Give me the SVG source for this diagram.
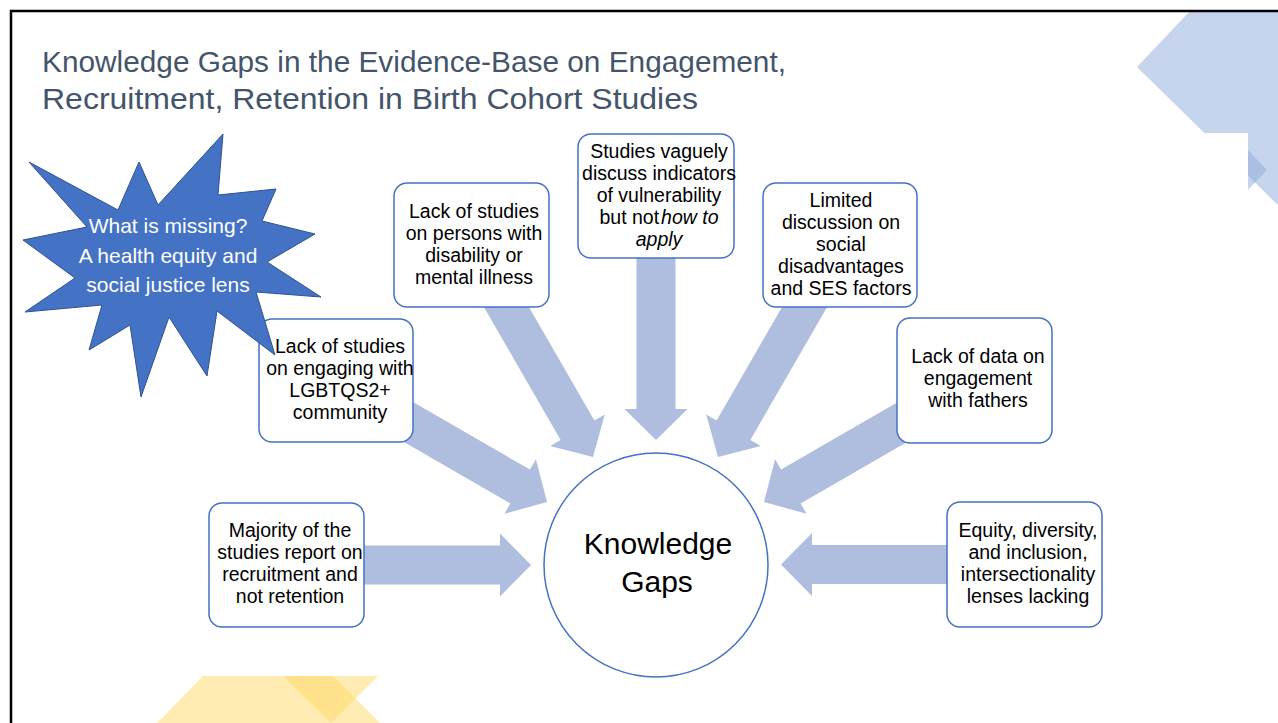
<svg xmlns="http://www.w3.org/2000/svg" width="1278" height="723" viewBox="0 0 1278 723">
  <style>
    .deco-b { fill:#8FAADC; fill-opacity:0.5; }
    .deco-y { fill:#FFD966; fill-opacity:0.5; }
    .arrow { fill:#AFBDDF; }
    .box rect { fill:#FFFFFF; stroke:#4472C4; stroke-width:1.5; }
    .bt { font-family:"Liberation Sans", Arial, sans-serif; font-size:19.5px; fill:#000000; text-anchor:middle; }
    .title { font-family:"Liberation Sans", Arial, sans-serif; font-size:30px; fill:#44546A; }
    .star { fill:#4472C4; stroke:#2F528F; stroke-width:1; }
    .st { font-family:"Liberation Sans", Arial, sans-serif; font-size:21px; fill:#FFFFFF; text-anchor:middle; }
    .ct { font-family:"Liberation Sans", Arial, sans-serif; font-size:30px; fill:#000000; text-anchor:middle; }
  </style>
  <rect width="1278" height="723" fill="#FFFFFF"/>

  <g id="decorations">
    <polygon class="deco-b" points="1137,67 1190,11 1278,11 1278,205"/>
    <rect x="1203" y="133" width="45" height="90" fill="#FFFFFF"/>
    <polygon class="deco-b" points="1248,150 1267,170 1248,190"/>
    <polygon class="deco-y" points="157,723 203,676 333,676 380,723"/>
    <polygon class="deco-y" points="283,676 378,676 331,723"/>
  </g>

  <rect id="frame" x="11" y="11" width="1300" height="800" fill="none" stroke="#000000" stroke-width="2.5"/>

  <g id="title">
    <text class="title" x="42" y="72" textLength="744" lengthAdjust="spacingAndGlyphs">Knowledge Gaps in the Evidence-Base on Engagement,</text>
    <text class="title" x="42" y="109" textLength="656" lengthAdjust="spacingAndGlyphs">Recruitment, Retention in Birth Cohort Studies</text>
  </g>

  <g id="connectors">
    <path class="arrow" transform="translate(350 565)" d="M0,-19.5 H150 V-31.5 L181,0 L150,31.5 V19.5 H0 Z"/>
    <path class="arrow" transform="translate(394.6 414) rotate(30)" d="M0,-19.5 H145 V-31.5 L176,0 L145,31.5 V19.5 H0 Z"/>
    <path class="arrow" transform="translate(498 292.5) rotate(60)" d="M0,-19.5 H159 V-31.5 L190,0 L159,31.5 V19.5 H0 Z"/>
    <path class="arrow" transform="translate(656 245) rotate(90)" d="M0,-19.5 H164 V-31.5 L195,0 L164,31.5 V19.5 H0 Z"/>
    <path class="arrow" transform="translate(813 292.5) rotate(120)" d="M0,-19.5 H159 V-31.5 L190,0 L159,31.5 V19.5 H0 Z"/>
    <path class="arrow" transform="translate(916.4 414) rotate(150)" d="M0,-19.5 H145 V-31.5 L176,0 L145,31.5 V19.5 H0 Z"/>
    <path class="arrow" transform="translate(960 564.5) rotate(180)" d="M0,-19.5 H148 V-31.5 L179,0 L148,31.5 V19.5 H0 Z"/>
  </g>

  <g id="node-majority" class="box">
    <rect x="209" y="503" width="155" height="124" rx="13"/>
    <text class="bt" x="290" y="537">Majority of the</text>
    <text class="bt" x="290" y="559">studies report on</text>
    <text class="bt" x="290" y="581">recruitment and</text>
    <text class="bt" x="290" y="603">not retention</text>
  </g>

  <g id="node-lgbtqs2" class="box">
    <rect x="259" y="319" width="154" height="123" rx="13"/>
    <text class="bt" x="340" y="353">Lack of studies</text>
    <text class="bt" x="340" y="375">on engaging with</text>
    <text class="bt" x="340" y="397">LGBTQS2+</text>
    <text class="bt" x="340" y="419">community</text>
  </g>

  <g id="node-disability" class="box">
    <rect x="394" y="183" width="155" height="124" rx="13"/>
    <text class="bt" x="474" y="218">Lack of studies</text>
    <text class="bt" x="474" y="240">on persons with</text>
    <text class="bt" x="474" y="262">disability or</text>
    <text class="bt" x="474" y="284">mental illness</text>
  </g>

  <g id="node-vulnerability" class="box">
    <rect x="578" y="134" width="156" height="124" rx="13"/>
    <text class="bt" x="659" y="158">Studies vaguely</text>
    <text class="bt" x="659" y="180">discuss indicators</text>
    <text class="bt" x="659" y="202">of vulnerability</text>
    <text class="bt" x="659" y="224">but not<tspan font-style="italic" dx="2">how to</tspan></text>
    <text class="bt" x="659" y="246" font-style="italic">apply</text>
  </g>

  <g id="node-limited" class="box">
    <rect x="763" y="183" width="154" height="124" rx="13"/>
    <text class="bt" x="841" y="207">Limited</text>
    <text class="bt" x="841" y="229">discussion on</text>
    <text class="bt" x="841" y="251">social</text>
    <text class="bt" x="841" y="273">disadvantages</text>
    <text class="bt" x="841" y="295">and SES factors</text>
  </g>

  <g id="node-fathers" class="box">
    <rect x="897" y="318" width="155" height="125" rx="13"/>
    <text class="bt" x="978" y="363">Lack of data on</text>
    <text class="bt" x="978" y="385">engagement</text>
    <text class="bt" x="978" y="407">with fathers</text>
  </g>

  <g id="node-equity" class="box">
    <rect x="947" y="502" width="155" height="125" rx="13"/>
    <text class="bt" x="1028" y="537">Equity, diversity,</text>
    <text class="bt" x="1028" y="559">and inclusion,</text>
    <text class="bt" x="1028" y="581">intersectionality</text>
    <text class="bt" x="1028" y="603">lenses lacking</text>
  </g>

  <g id="node-knowledge-gaps">
    <circle cx="656" cy="565" r="112" fill="#FFFFFF" stroke="#4472C4" stroke-width="1.5"/>
    <text class="ct" x="658" y="554">Knowledge</text>
    <text class="ct" x="657" y="592">Gaps</text>
  </g>

  <g id="node-missing">
    <polygon class="star" points="223,134 218,195 276,189 262,221 315,234 267,262 321,297 256,292 275,355 217,311 207,376 169,317 141,397 130,325 89,350 102,305 25,312 75,278 23,240 87,227 29,162 118,210 139,162 158,205"/>
    <text class="st" x="168" y="233">What is missing?</text>
    <text class="st" x="168" y="263">A health equity and</text>
    <text class="st" x="168" y="292">social justice lens</text>
  </g>
</svg>
